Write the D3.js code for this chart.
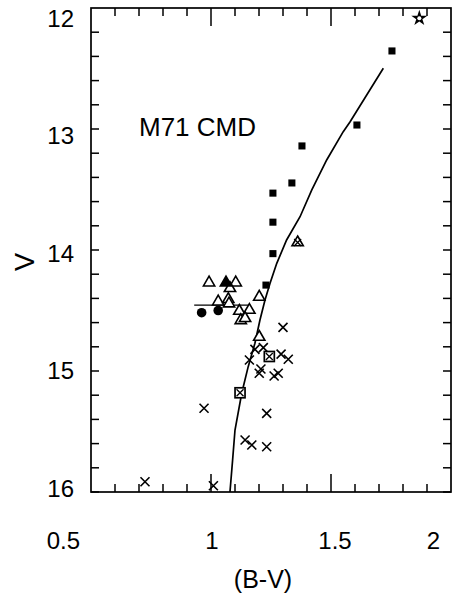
<!DOCTYPE html>
<html><head><meta charset="utf-8">
<script src="https://cdn.jsdelivr.net/npm/d3@7"></script>
<style>body{margin:0;background:#fff}svg{display:block}</style>
</head><body><svg id="c" width="459" height="608"></svg>
<script>
// ---- data ----
const xTicks = [0.5, 1, 1.5, 2];
const yTicks = [12, 13, 14, 15, 16];
const title = "M71 CMD";
const xLabel = "(B-V)";
const yLabel = "V";

const squares = [[1.754,12.355],[1.608,12.967],[1.379,13.14],[1.337,13.446],[1.258,13.53],[1.258,13.77],[1.258,14.03],[1.229,14.29]];
const openTriangles = [[0.992,14.262],[1.103,14.262],[1.079,14.308],[1.030,14.419],[1.072,14.399],[1.075,14.435],[1.118,14.496],[1.160,14.488],[1.124,14.573],[1.142,14.556],[1.201,14.38],[1.201,14.711]];
const filledTriangles = [[1.0625,14.262]];
const circles = [[0.961,14.518],[1.030,14.5]];
const crosses = [[1.300,14.64],[1.218,14.807],[1.183,14.821],[1.160,14.909],[1.292,14.86],[1.322,14.903],[1.208,14.983],[1.201,15.019],[1.263,15.041],[1.280,15.019],[0.971,15.308],[1.232,15.35],[1.142,15.570],[1.170,15.612],[1.232,15.626],[0.725,15.915],[1.010,15.948]];
const boxCrosses = [[1.243,14.88],[1.121,15.18]];
const crossTriangles = [[1.361,13.93]];
const stars = [[1.868,12.085]];
const isochrone = [[1.079,16.0],[1.090,15.736],[1.100,15.488],[1.128,15.184],[1.155,14.964],[1.183,14.771],[1.204,14.579],[1.225,14.413],[1.246,14.275],[1.274,14.110],[1.315,13.917],[1.371,13.725],[1.420,13.504],[1.482,13.256],[1.551,13.022],[1.579,12.942],[1.718,12.498]];
const hbLine = [[0.93,14.455],[1.16,14.455]];

// ---- layout ----
const L = 91, R = 451, T = 8, B = 492;
const x = d3.scaleLinear().domain([0.5, 2]).range([L, R]);
const y = d3.scaleLinear().domain([12, 16]).range([T, B]);
const svg = d3.select("#c");
const font = "'Liberation Sans', Arial, Helvetica, sans-serif";

// frame
svg.append("rect").attr("x", L).attr("y", T).attr("width", R - L).attr("height", B - T)
  .attr("fill", "none").attr("stroke", "#000").attr("stroke-width", 1.7);

// ticks
const xMinor = d3.range(0.6, 2.0, 0.1).map(v => +v.toFixed(2));
const yMinor = d3.range(12.2, 16.0, 0.2).map(v => +v.toFixed(2));
const isMajorX = v => Math.abs(v - 1) < 1e-6 || Math.abs(v - 1.5) < 1e-6;
const tickG = svg.append("g").attr("stroke", "#000").attr("stroke-width", 1.5);
xMinor.forEach(v => {
  const len = isMajorX(v) ? 18 : 8;
  tickG.append("line").attr("x1", x(v)).attr("x2", x(v)).attr("y1", B).attr("y2", B - len);
  tickG.append("line").attr("x1", x(v)).attr("x2", x(v)).attr("y1", T).attr("y2", T + len);
});
yMinor.forEach(v => {
  tickG.append("line").attr("x1", L).attr("x2", L + 8).attr("y1", y(v)).attr("y2", y(v));
  tickG.append("line").attr("x1", R).attr("x2", R - 8).attr("y1", y(v)).attr("y2", y(v));
});

// tick labels
const ext = d3.extent(xTicks);
svg.append("g").selectAll("text").data(xTicks).join("text")
  .attr("x", d => (d === ext[0] || d === ext[1]) ? x(d) - 11 : x(d) + (d === 1.5 ? 4 : 1))
  .attr("y", 549)
  .attr("text-anchor", d => (d === ext[0] || d === ext[1]) ? "end" : "middle")
  .attr("font-family", font).attr("font-size", 24).text(d => d3.format("")(d));

const yl = d3.scaleLinear().domain([12, 16]).range([18, 488]);
svg.append("g").selectAll("text").data(yTicks).join("text")
  .attr("x", 74).attr("y", d => yl(d)).attr("dy", "0.36em")
  .attr("text-anchor", "end")
  .attr("font-family", font).attr("font-size", 24).text(d => d);

// axis titles
svg.append("text").attr("x", 263).attr("y", 588).attr("text-anchor", "middle")
  .attr("font-family", font).attr("font-size", 25).text(xLabel);
svg.append("text").attr("transform", "translate(34,262) rotate(-90)").attr("text-anchor", "middle")
  .attr("font-family", font).attr("font-size", 27).text(yLabel);
svg.append("text").attr("x", 139).attr("y", 136)
  .attr("font-family", font).attr("font-size", 26).text(title);

// lines
const line = d3.line().x(d => x(d[0])).y(d => y(d[1]));
svg.append("path").datum(isochrone).attr("d", line).attr("fill", "none").attr("stroke", "#000").attr("stroke-width", 1.7);
svg.append("path").datum(hbLine).attr("d", line).attr("fill", "none").attr("stroke", "#000").attr("stroke-width", 1.3);

// symbols
const tri = d3.symbol(d3.symbolTriangle, 55)();
const sq = d3.symbol(d3.symbolSquare, 50)();
const pts = (data) => svg.append("g").selectAll("g").data(data).join("g")
  .attr("transform", d => `translate(${x(d[0])},${y(d[1])})`);

pts(openTriangles).append("path").attr("d", tri).attr("transform", "translate(0,1)")
  .attr("fill", "#fff").attr("stroke", "#000").attr("stroke-width", 1.6);
pts(filledTriangles).append("path").attr("d", tri).attr("transform", "translate(0,1)")
  .attr("fill", "#000").attr("stroke", "#000").attr("stroke-width", 1.6);
pts(circles).append("circle").attr("r", 4.8).attr("fill", "#000");
pts(squares).append("path").attr("d", sq).attr("fill", "#000");

const crossPath = "M-4.5,-4.5L4.5,4.5M-4.5,4.5L4.5,-4.5";
pts(crosses).append("path").attr("d", crossPath).attr("fill", "none").attr("stroke", "#000").attr("stroke-width", 1.6);

const bc = pts(boxCrosses);
bc.append("rect").attr("x", -5).attr("y", -5).attr("width", 10).attr("height", 10)
  .attr("fill", "#fff").attr("stroke", "#000").attr("stroke-width", 1.7);
bc.append("path").attr("d", "M-3.5,-3.5L3.5,3.5M-3.5,3.5L3.5,-3.5").attr("stroke", "#000").attr("stroke-width", 1.3);

const ct = pts(crossTriangles);
ct.append("path").attr("d", tri).attr("transform", "translate(0,1)").attr("fill", "#fff").attr("stroke", "#000").attr("stroke-width", 1.6);
ct.append("path").attr("d", "M-3.5,-2.5L3.5,4.5M-3.5,4.5L3.5,-2.5").attr("stroke", "#000").attr("stroke-width", 1.3);

const st = pts(stars);
st.append("path").attr("d", d3.symbol(d3.symbolStar, 80)()).attr("fill", "#000");
st.append("circle").attr("r", 2).attr("fill", "#fff");
</script></body></html>
